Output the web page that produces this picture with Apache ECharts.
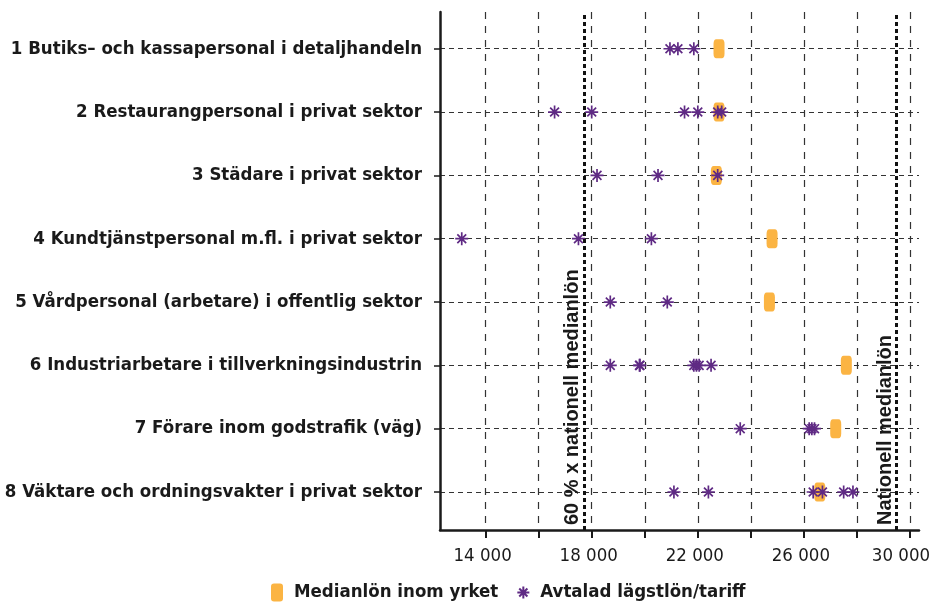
<!DOCTYPE html>
<html>
<head>
<meta charset="utf-8">
<script src="https://cdn.jsdelivr.net/npm/echarts@6/dist/echarts.min.js"></script>
<style>html,body{margin:0;padding:0;background:#fff}#c{width:934px;height:605px}</style>
</head>
<body>
<div id="c"></div>
<script>
const categories = [
  '1 Butiks\u2013 och kassapersonal i detaljhandeln',
  '2 Restaurangpersonal i privat sektor',
  '3 Städare i privat sektor',
  '4 Kundtjänstpersonal m.fl. i privat sektor',
  '5 Vårdpersonal (arbetare) i offentlig sektor',
  '6 Industriarbetare i tillverkningsindustrin',
  '7 Förare inom godstrafik (väg)',
  '8 Väktare och ordningsvakter i privat sektor'
];
const medianValues = [22800, 22800, 22700, 24800, 24700, 27600, 27200, 26600];
const tariffValues = [
  [20950, 21250, 21850],
  [16600, 18000, 21500, 22000, 22750, 22900],
  [18200, 20500, 22750],
  [13100, 17500, 20250],
  [18700, 20850],
  [18700, 19800, 19820, 21850, 21950, 22050, 22500],
  [23600, 26200, 26300, 26400],
  [21100, 22400, 26350, 26700, 27500, 27850]
];
const xTickValues = [14000, 16000, 18000, 20000, 22000, 24000, 26000, 28000, 30000];
const xLabelValues = [14000, 18000, 22000, 26000, 30000];
const rowValues = [1, 2, 3, 4, 5, 6, 7, 8];
const nationalMedian = 29500;
const sixtyPercent = 17700;
const seriesNames = ['Medianlön inom yrket', 'Avtalad lägstlön/tariff'];
const refLabels = ['60 % x nationell medianlön', 'Nationell medianlön'];

const Y_MIN = 0.42, Y_MAX = 8.6;
const condensed = "'DejaVu Sans Condensed', 'Liberation Sans Narrow', sans-serif";
const starPath = 'path://M5 0 L5 10 M0 5 L10 5 M1.6 1.6 L8.4 8.4 M1.6 8.4 L8.4 1.6';
const purple = '#5f2a84';
const orange = '#fbb443';

const medianData = medianValues.map((v, i) => [v, i + 1]);
const tariffData = [];
tariffValues.forEach((arr, i) => arr.forEach(v => tariffData.push([v, i + 1])));

const fmt = v => {
  const s = String(v).replace(/\B(?=(\d{3})+(?!\d))/g, ' ');
  return v === xLabelValues[xLabelValues.length - 1] ? '{last|' + s + '}' : '{n|' + s + '}';
};

const refLine = (x, text) => [
  {coord: [x, Y_MAX], label: {formatter: text}},
  {coord: [x, Y_MIN]}
];

const chart = echarts.init(document.getElementById('c'), null, {renderer: 'canvas'});
chart.setOption({
  animation: false,
  grid: {left: 440, right: 15, top: 12, bottom: 75, containLabel: false, outerBoundsMode: 'none'},
  legend: {
    left: 266, top: 578,
    itemWidth: 12, itemHeight: 18, itemGap: 18,
    textStyle: {fontFamily: condensed, fontWeight: 'bold', fontSize: 18.5, color: '#1a1a1a', padding: [0, 0, 0, 6]},
    data: [
      {name: seriesNames[0], icon: 'roundRect'},
      {name: seriesNames[1], icon: starPath}
    ]
  },
  xAxis: {
    type: 'value', min: 12280, max: 30340,
    axisLine: {show: true, lineStyle: {color: '#1a1a1a', width: 2.5}},
    axisTick: {show: true, length: 8, customValues: xTickValues, lineStyle: {color: '#1a1a1a', width: 2}},
    axisLabel: {customValues: xLabelValues, formatter: fmt, margin: 17,
      fontFamily: condensed, fontSize: 18.5, color: '#1a1a1a',
      rich: {
        n: {fontFamily: condensed, fontSize: 18.5, color: '#1a1a1a', padding: [0, 6, 0, 0]},
        last: {fontFamily: condensed, fontSize: 18.5, color: '#1a1a1a', padding: [0, 18, 0, 0]}
      }},
    splitLine: {show: true, lineStyle: {color: '#333', type: [7, 7], width: 1.2}}
  },
  yAxis: {
    type: 'value', inverse: true, min: Y_MIN, max: Y_MAX,
    axisLine: {show: true, lineStyle: {color: '#1a1a1a', width: 2.5}},
    axisTick: {show: true, length: 6, customValues: rowValues, lineStyle: {color: '#1a1a1a', width: 1.5}},
    axisLabel: {customValues: rowValues, formatter: v => categories[Math.round(v) - 1] || '',
      margin: 18, fontFamily: condensed, fontWeight: 'bold', fontSize: 18.5, color: '#1a1a1a'},
    splitLine: {show: true, lineStyle: {color: '#333', type: [5, 4], width: 1.2}}
  },
  series: [
    {
      name: seriesNames[0], type: 'scatter', data: medianData,
      symbol: 'roundRect', symbolSize: [11, 19], z: 3,
      itemStyle: {color: orange, opacity: 1},
      markLine: {
        silent: true, symbol: 'none',
        lineStyle: {color: '#111', width: 3, type: [4, 3]},
        label: {show: true, position: 'insideStartTop', distance: [5, 1],
          fontFamily: "'Liberation Sans', Arial, sans-serif", fontWeight: 'bold', fontSize: 20, color: '#1a1a1a'},
        data: [
          refLine(sixtyPercent, refLabels[0]),
          refLine(nationalMedian, refLabels[1])
        ]
      }
    },
    {
      name: seriesNames[1], type: 'scatter', data: tariffData,
      symbol: starPath, symbolSize: 13, z: 4,
      itemStyle: {color: 'rgba(0,0,0,0)', borderColor: purple, borderWidth: 1.7, opacity: 1}
    }
  ]
});
</script>
</body>
</html>
